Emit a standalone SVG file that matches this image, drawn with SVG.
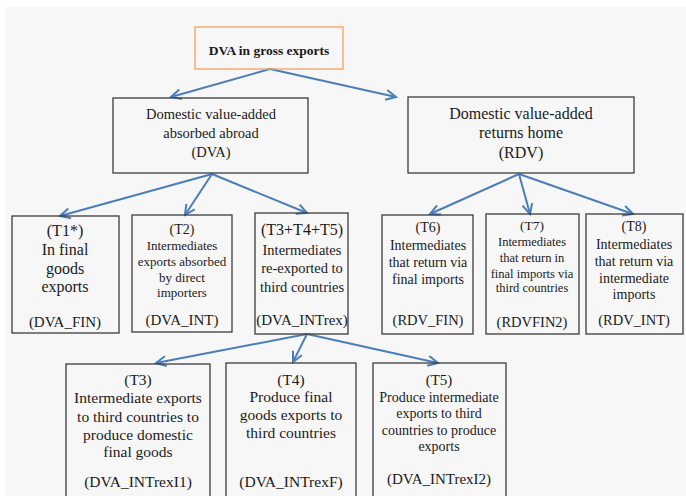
<svg xmlns="http://www.w3.org/2000/svg" width="686" height="496" viewBox="0 0 686 496">
<defs>
<style>
.bx{fill:none;stroke:#3c3c3c;stroke-width:1.3}
.top{fill:none;stroke:#f3a35e;stroke-width:1.3}
text{font-family:"Liberation Serif","Tinos","Noto Serif","DejaVu Serif","Times New Roman",Times,serif;fill:#1a1a1a;text-anchor:middle}
.c{stroke:#4a7ebb;stroke-width:2;fill:none;marker-end:url(#ah)}
</style>
<marker id="ah" markerUnits="userSpaceOnUse" markerWidth="14" markerHeight="14" refX="11" refY="6" orient="auto">
<path d="M1,1 L11,6 L1,11" fill="none" stroke="#4a7ebb" stroke-width="2"/>
</marker>
</defs>
<rect x="0" y="0" width="686" height="496" fill="#ffffff"/>
<rect x="5" y="7" width="681" height="489" fill="#f7f7f7"/>
<g id="connectors">
<line class="c" x1="270" y1="69" x2="171" y2="97"/>
<line class="c" x1="270" y1="69" x2="396" y2="97"/>
<line class="c" x1="212" y1="174" x2="60" y2="216"/>
<line class="c" x1="212" y1="174" x2="185" y2="215"/>
<line class="c" x1="212" y1="174" x2="307" y2="213"/>
<line class="c" x1="519" y1="174" x2="430" y2="214"/>
<line class="c" x1="519" y1="174" x2="530" y2="214"/>
<line class="c" x1="519" y1="174" x2="633" y2="214"/>
<line class="c" x1="307" y1="334" x2="156" y2="363"/>
<line class="c" x1="307" y1="334" x2="293" y2="362"/>
<line class="c" x1="307" y1="334" x2="438" y2="363"/>
</g>
<g id="root">
<rect class="top" x="195" y="27" width="148" height="42"/>
<text x="269" y="55" font-size="13.5" font-weight="bold">DVA in gross exports</text>
</g>
<g id="dva">
<rect class="bx" x="113" y="98" width="195" height="75"/>
<text x="211" y="119" font-size="14.5">Domestic value-added</text>
<text x="211" y="138" font-size="14.5">absorbed abroad</text>
<text x="211" y="157" font-size="14.5">(DVA)</text>
</g>
<g id="rdv">
<rect class="bx" x="408" y="97" width="226" height="76"/>
<text x="521" y="119" font-size="16">Domestic value-added</text>
<text x="521" y="138" font-size="16">returns home</text>
<text x="521" y="158" font-size="16">(RDV)</text>
</g>
<g id="t1">
<rect class="bx" x="12" y="216" width="107" height="117"/>
<text x="65" y="236" font-size="16">(T1*)</text>
<text x="65" y="255" font-size="16">In final</text>
<text x="65" y="274" font-size="16">goods</text>
<text x="65" y="292" font-size="16">exports</text>
<text x="65" y="327" font-size="15">(DVA_FIN)</text>
</g>
<g id="t2">
<rect class="bx" x="132" y="215" width="100" height="117"/>
<text x="182" y="234" font-size="14">(T2)</text>
<text x="182" y="250" font-size="13">Intermediates</text>
<text x="182" y="266" font-size="13">exports absorbed</text>
<text x="182" y="282" font-size="13">by direct</text>
<text x="182" y="297" font-size="13">importers</text>
<text x="182" y="325" font-size="15">(DVA_INT)</text>
</g>
<g id="t345">
<rect class="bx" x="255" y="213" width="93" height="121"/>
<text x="302" y="235" font-size="16">(T3+T4+T5)</text>
<text x="302" y="255" font-size="14.5">Intermediates</text>
<text x="302" y="273" font-size="14.5">re-exported to</text>
<text x="302" y="292" font-size="14.5">third countries</text>
<text x="302" y="325" font-size="15">(DVA_INTrex)</text>
</g>
<g id="t6">
<rect class="bx" x="382" y="215" width="91" height="119"/>
<text x="428" y="232" font-size="14">(T6)</text>
<text x="428" y="250" font-size="14">Intermediates</text>
<text x="428" y="267" font-size="14">that return via</text>
<text x="428" y="284" font-size="14">final imports</text>
<text x="428" y="325" font-size="14.5">(RDV_FIN)</text>
</g>
<g id="t7">
<rect class="bx" x="486" y="214" width="93" height="120"/>
<text x="532" y="230" font-size="13.5">(T7)</text>
<text x="532" y="246" font-size="12.5">Intermediates</text>
<text x="532" y="262" font-size="12.5">that return in</text>
<text x="532" y="278" font-size="12.5">final imports via</text>
<text x="532" y="292" font-size="12.5">third countries</text>
<text x="532" y="327" font-size="14.5">(RDVFIN2)</text>
</g>
<g id="t8">
<rect class="bx" x="586" y="214" width="97" height="120"/>
<text x="634" y="231" font-size="14">(T8)</text>
<text x="634" y="249" font-size="14">Intermediates</text>
<text x="634" y="266" font-size="14">that return via</text>
<text x="634" y="283" font-size="14">intermediate</text>
<text x="634" y="299" font-size="14">imports</text>
<text x="634" y="325" font-size="14.5">(RDV_INT)</text>
</g>
<g id="t3">
<rect class="bx" x="66" y="364" width="144" height="140"/>
<text x="138" y="385" font-size="15.5">(T3)</text>
<text x="138" y="403" font-size="15.5">Intermediate exports</text>
<text x="138" y="422" font-size="15.5">to third countries to</text>
<text x="138" y="440" font-size="15.5">produce domestic</text>
<text x="138" y="457" font-size="15.5">final goods</text>
<text x="138" y="487" font-size="15.5">(DVA_INTrexI1)</text>
</g>
<g id="t4">
<rect class="bx" x="226" y="363" width="130" height="140"/>
<text x="291" y="385" font-size="15.5">(T4)</text>
<text x="291" y="402" font-size="15.5">Produce final</text>
<text x="291" y="420" font-size="15.5">goods exports to</text>
<text x="291" y="438" font-size="15.5">third countries</text>
<text x="291" y="487" font-size="15.5">(DVA_INTrexF)</text>
</g>
<g id="t5">
<rect class="bx" x="373" y="363" width="133" height="140"/>
<text x="439" y="385" font-size="15">(T5)</text>
<text x="439" y="402" font-size="14">Produce intermediate</text>
<text x="439" y="418" font-size="14">exports to third</text>
<text x="439" y="435" font-size="14">countries to produce</text>
<text x="439" y="451" font-size="14">exports</text>
<text x="439" y="484" font-size="15">(DVA_INTrexI2)</text>
</g>
</svg>
